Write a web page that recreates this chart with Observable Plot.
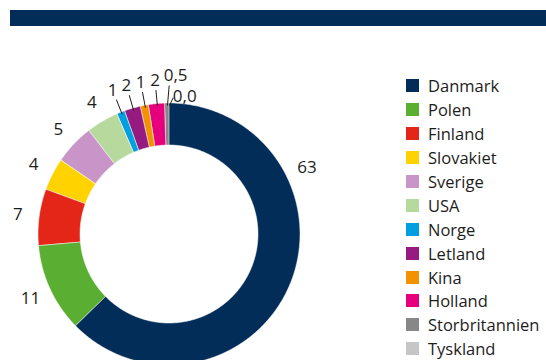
<!DOCTYPE html>
<html>
<head>
<meta charset="utf-8">
<script src="https://cdn.jsdelivr.net/npm/d3@7"></script>
<script src="https://cdn.jsdelivr.net/npm/@observablehq/plot@0.6"></script>
<style>
  html, body { margin: 0; padding: 0; background: #fff; }
  body { width: 546px; height: 360px; overflow: hidden; position: relative; font-family: "Open Sans", sans-serif; color: #1d1d1b; }
  #band { position: absolute; left: 10px; top: 10px; width: 536px; height: 16px; background: #022d59; }
  #chart { position: absolute; left: 0; top: 0; }
  #legend { position: absolute; left: 406px; top: 74px; font-size: 16.5px; }
  #legend .row { display: flex; align-items: center; height: 23.9px; white-space: nowrap; }
  #legend .sw { width: 13px; height: 13px; margin-right: 9px; flex: none; }
</style>
</head>
<body>
<div id="band"></div>
<div id="chart"></div>
<div id="legend"></div>
<script>
// Shares by country (percent)
const countries = ["Danmark", "Polen", "Finland", "Slovakiet", "Sverige", "USA", "Norge", "Letland", "Kina", "Holland", "Storbritannien", "Tyskland"];
const shares = [63, 11, 7, 4, 5, 4, 1, 2, 1, 2, 0.5, 0.0];
const colors = ["#022d59", "#5aae32", "#e42618", "#ffd200", "#c994c7", "#b8d99d", "#00a0e0", "#951b81", "#f39200", "#e6007e", "#878787", "#c6c6c6"];

// Ring geometry and label placement (nudges for labels that would collide)
const R_OUT = 131, R_IN = 89, R_LABEL = 153;
const labelTurn = [-48.8, 0, 0, 0, 0, 0, 0, 0, 0, 0, 3.1, 6.3];   // degrees
const labelPush = [0, 0, 0, 0, 0, 0, 2, 2, 2, 2, 6, -14];         // radial offset

const fmt = v => v >= 1 ? String(v) : v.toFixed(1).replace(".", ",");
const rows = countries.map((country, i) => ({country, share: shares[i], i}));
const arcs = d3.pie().sort(null).value(d => d.share)(rows);
const rad = Math.PI / 180;
const px = (a, r) => r * Math.sin(a);
const py = (a, r) => r * Math.cos(a);

// Ring segments as areas between the inner and outer arcs
const ring = [];
for (const a of arcs) {
  if (a.data.share <= 0) continue;
  const n = Math.max(2, Math.ceil((a.endAngle - a.startAngle) / (0.5 * rad)));
  for (let k = 0; k <= n; ++k) {
    const t = a.startAngle + (a.endAngle - a.startAngle) * k / n;
    ring.push({country: a.data.country, x1: px(t, R_IN), y1: py(t, R_IN), x2: px(t, R_OUT), y2: py(t, R_OUT)});
  }
}

const labels = arcs.map(a => {
  const i = a.data.i;
  const mid = (a.startAngle + a.endAngle) / 2;
  const ang = mid + labelTurn[i] * rad;
  const r = R_LABEL + labelPush[i];
  const tip = mid + labelTurn[i] * 0.25 * rad;
  const rt = Math.max(r - 10, R_OUT + 6);
  return {
    text: fmt(a.data.share), x: px(ang, r), y: py(ang, r),
    small: a.data.share <= 2,
    lx1: px(mid, R_OUT - 2), ly1: py(mid, R_OUT - 2),
    lx2: px(tip, rt), ly2: py(tip, rt)
  };
});

const chart = Plot.plot({
  width: 390,
  height: 360,
  margin: 0,
  x: {domain: [-169, 221], axis: null},
  y: {domain: [-126, 234], axis: null},
  color: {domain: countries, range: colors},
  style: {fontFamily: "'Open Sans', sans-serif", background: "transparent", overflow: "hidden"},
  marks: [
    Plot.area(ring, {x1: "x1", y1: "y1", x2: "x2", y2: "y2", z: "country", fill: "country", stroke: "#fff", strokeWidth: 0.5, curve: "linear"}),
    Plot.link(labels.filter(d => d.small), {x1: "lx1", y1: "ly1", x2: "lx2", y2: "ly2", stroke: "#1d1d1b", strokeWidth: 1}),
    Plot.text(labels, {x: "x", y: "y", text: "text", fontSize: 17, fill: "#1d1d1b"})
  ]
});
document.getElementById("chart").append(chart);

// Legend
const legend = document.getElementById("legend");
countries.forEach((c, i) => {
  const row = document.createElement("div");
  row.className = "row";
  const sw = document.createElement("span");
  sw.className = "sw";
  sw.style.background = colors[i];
  const tx = document.createElement("span");
  tx.textContent = c;
  row.append(sw, tx);
  legend.append(row);
});
</script>
</body>
</html>
